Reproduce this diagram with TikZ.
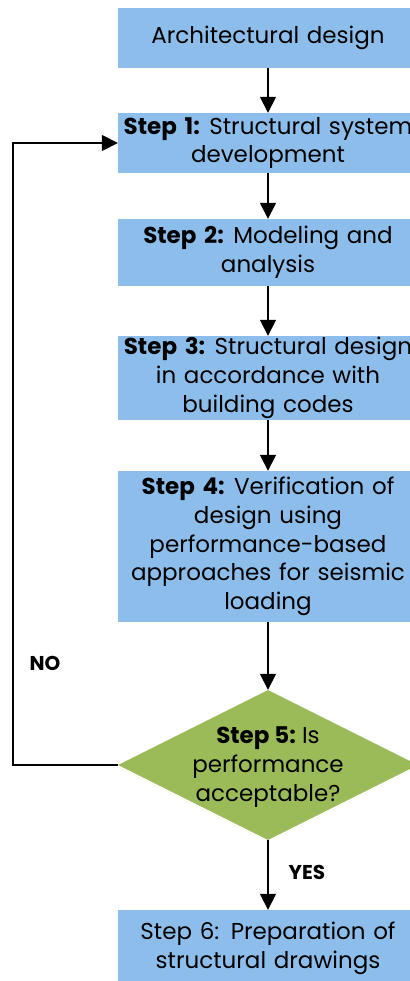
\documentclass[tikz,border=0pt]{standalone}
\usepackage{fontspec}
\setmainfont{Poppins}
\usetikzlibrary{arrows.meta,shapes.geometric}
\definecolor{boxblue}{RGB}{141,190,235}
\definecolor{diagreen}{RGB}{155,187,89}
\tikzset{
  stepbox/.style={rectangle, fill=boxblue, inner sep=0pt, minimum width=300pt,
    text width=300pt, align=center, font=\fontsize{23}{28.7}\selectfont},
  decision/.style={diamond, fill=diagreen, inner sep=0pt, aspect=2,
    minimum width=300pt, minimum height=150pt},
  decisiontext/.style={align=center, inner sep=0pt, font=\fontsize{23}{28.7}\selectfont},
  flow/.style={line width=1.7pt, -{Triangle[length=16pt,width=16pt]}},
  answer/.style={font=\bfseries\fontsize{20}{22}\selectfont}
}
\begin{document}
\begin{tikzpicture}[x=1pt,y=1pt]
  \useasboundingbox (0,0) rectangle (409,-981);
  \node[stepbox, minimum height=60pt] (arch) at (268,-38) {Architectural design};
  \node[stepbox, minimum height=60pt] (s1) at (268,-143)
    {\textbf{Step 1:}\hspace{-2pt} Structural system\\development};
  \node[stepbox, minimum height=67pt] (s2) at (268,-252.5)
    {\textbf{Step 2:}\hspace{-2pt} Modeling and\\analysis};
  \node[stepbox, minimum height=84pt] (s3) at (268,-378)
    {\textbf{Step 3:}\hspace{-2pt} Structural design\\in accordance with\\building codes};
  \node[stepbox, minimum height=151pt] (s4) at (268,-546.5)
    {\textbf{Step 4:}\hspace{-2pt} Verification of\\design using\\performance-based\\approaches for seismic\\loading};
  \node[decision] (s5) at (268,-765) {};
  \node[decisiontext] (s5text) at (268,-767)
    {\textbf{Step 5:}\hspace{-2pt} Is\\performance\\acceptable?};
  \node[stepbox, minimum height=76pt] (s6) at (268,-948)
    {Step 6: Preparation of\\structural drawings};
  \coordinate (loopbot) at (13,-765);
  \coordinate (looptop) at (13,-143);

  \draw[flow] (arch) -- (s1);
  \draw[flow] (s1) -- (s2);
  \draw[flow] (s2) -- (s3);
  \draw[flow] (s3) -- (s4);
  \draw[flow] (s4) -- (s5);
  \draw[flow] (s5) -- (s6);
  \draw[flow] (s5.west) -- (loopbot) -- (looptop) -- (s1.west);
  \node[answer] (no) at (45,-663) {NO};
  \node[answer] (yes) at (307,-872) {YES};
\end{tikzpicture}
\end{document}
